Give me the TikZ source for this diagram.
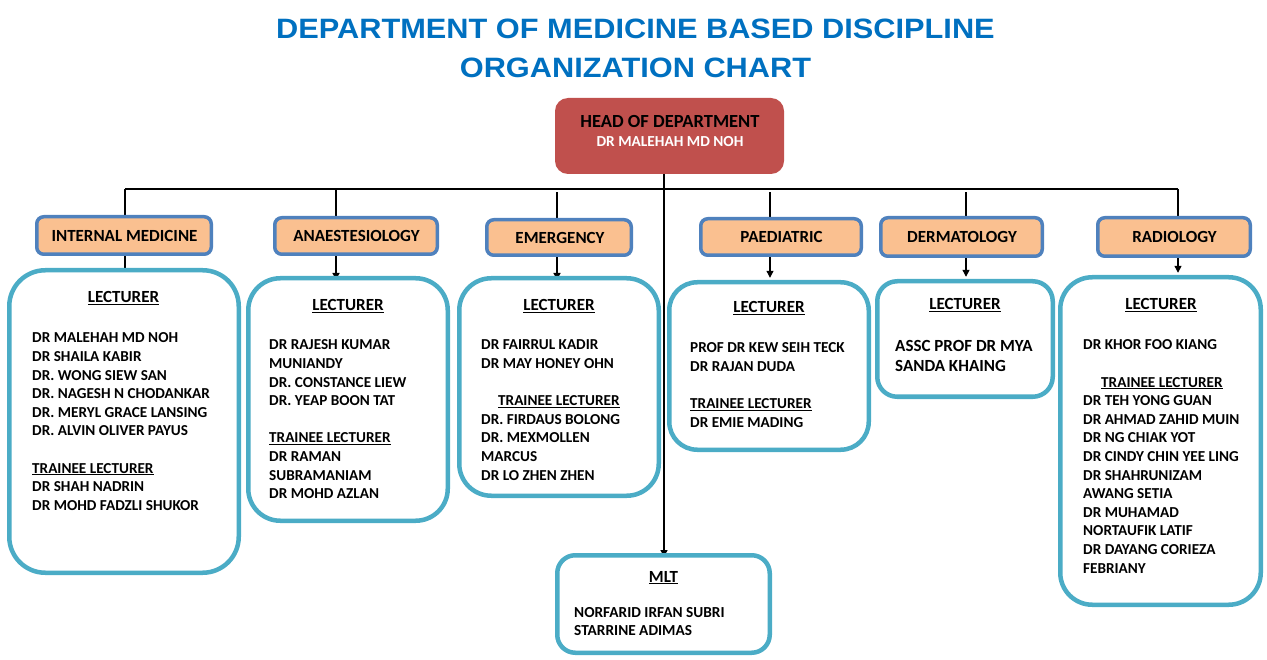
\documentclass[tikz,border=0pt]{standalone}
\usepackage{fontspec}
\setmainfont{Carlito}
\newfontfamily\titlefont{Liberation Sans}
\usetikzlibrary{arrows.meta,backgrounds}
\definecolor{titleblue}{HTML}{0070C0}
\definecolor{headred}{HTML}{C0504D}
\definecolor{deptfill}{HTML}{FAC090}
\definecolor{deptblue}{HTML}{4F81BD}
\definecolor{lectteal}{HTML}{4BACC6}
\newcommand\myul[1]{\setbox0=\hbox{#1}\rlap{\rule[-2pt]{\wd0}{1.1pt}}\box0}
\newcommand\blk[1]{\begin{tabular}[t]{@{}l@{}}#1\end{tabular}}
\begin{document}
\begin{tikzpicture}[x=1pt,y=-1pt,
  dept/.style={draw=deptblue, line width=3.5pt, fill=deptfill, rounded corners=7pt, inner sep=0pt},
  lect/.style={draw=lectteal, line width=4.5pt, fill=white, inner sep=0pt},
  conn/.style={line width=1.2pt, black},
  arr/.style={conn, -{Triangle[length=7pt,width=7pt]}},
  ttl/.style={font=\fontsize{28}{34}\selectfont\titlefont\bfseries, text=titleblue, inner sep=0pt, anchor=base},
  lbl/.style={font=\fontsize{17}{20}\selectfont\bfseries, inner sep=0pt, anchor=base},
  names/.style={font=\fontsize{15.2}{18.6}\selectfont\bfseries, inner sep=0pt, anchor=base west},
]
\useasboundingbox (0,0) rectangle (1267,660);

% title
\node[ttl] (t1) at (635.5,39) {\scalebox{1.098}[1]{DEPARTMENT OF MEDICINE BASED DISCIPLINE}};
\node[ttl] (t2) at (635.5,78) {\scalebox{1.098}[1]{ORGANIZATION CHART}};

% head
\node[fill=headred, rounded corners=13pt, minimum width=229pt, minimum height=76pt, inner sep=0pt] (head) at (669.5,136) {};
\node[lbl, font=\fontsize{18.5}{22}\selectfont\bfseries] (hd1) at (670,128) {HEAD OF DEPARTMENT};
\node[lbl, font=\fontsize{15.3}{18}\selectfont\bfseries, text=white] (hd2) at (670,147) {DR MALEHAH MD NOH};

% departments
\node[dept, minimum width=174.5pt, minimum height=37.5pt] (im) at (124,235.5) {};
\node[dept, minimum width=162.5pt, minimum height=36.5pt] (an) at (356,236) {};
\node[dept, minimum width=144.5pt, minimum height=35.5pt] (em) at (559,237.5) {};
\node[dept, minimum width=160.5pt, minimum height=36.5pt] (pa) at (781,237) {};
\node[dept, minimum width=161.5pt, minimum height=38.5pt] (de) at (961.5,237) {};
\node[dept, minimum width=152.5pt, minimum height=38.5pt] (ra) at (1174,237) {};
\node[lbl] (imt) at (124.5,242) {INTERNAL MEDICINE};
\node[lbl] (ant) at (356.5,242) {ANAESTESIOLOGY};
\node[lbl] (emt) at (560,244) {EMERGENCY};
\node[lbl] (pat) at (781.5,243) {PAEDIATRIC};
\node[lbl] (det) at (962,243) {DERMATOLOGY};
\node[lbl] (rat) at (1174.5,243) {RADIOLOGY};

% lecturer boxes
\node[lect, rounded corners=36pt, minimum width=229.5pt, minimum height=302.5pt] (imL) at (124,421.5) {};
\node[lect, rounded corners=32pt, minimum width=199.5pt, minimum height=242.5pt] (anL) at (348,399.5) {};
\node[lect, rounded corners=32pt, minimum width=199.5pt, minimum height=217.5pt] (emL) at (559,387) {};
\node[lect, rounded corners=28pt, minimum width=199.5pt, minimum height=167.5pt] (paL) at (769,366) {};
\node[lect, rounded corners=20pt, minimum width=175.5pt, minimum height=115.5pt] (deL) at (965,339) {};
\node[lect, rounded corners=32pt, minimum width=200.5pt, minimum height=327.5pt] (raL) at (1160.5,441) {};
\node[lect, rounded corners=18pt, minimum width=212.5pt, minimum height=97.5pt] (mlt) at (663.5,604) {};

% headings
\node[lbl] (imH) at (123.5,303) {\myul{LECTURER}};
\node[lbl] (anH) at (348,311) {\myul{LECTURER}};
\node[lbl] (emH) at (559,311) {\myul{LECTURER}};
\node[lbl] (paH) at (769,313) {\myul{LECTURER}};
\node[lbl] (deH) at (965,310) {\myul{LECTURER}};
\node[lbl] (raH) at (1161,310) {\myul{LECTURER}};
\node[lbl] (mlH) at (663.5,582) {\myul{MLT}};

% name lists
\node[names] (imN) at (32,343) {\blk{DR MALEHAH MD NOH\\DR SHAILA KABIR\\DR. WONG SIEW SAN\\DR. NAGESH N CHODANKAR\\DR. MERYL GRACE LANSING\\DR. ALVIN OLIVER PAYUS\\ \\\myul{TRAINEE LECTURER}\\DR SHAH NADRIN\\DR MOHD FADZLI SHUKOR}};
\node[names] (anN) at (269,350) {\blk{DR RAJESH KUMAR\\MUNIANDY\\DR. CONSTANCE LIEW\\DR. YEAP BOON TAT\\ \\\myul{TRAINEE LECTURER}\\DR RAMAN\\SUBRAMANIAM\\DR MOHD AZLAN}};
\node[names] (emN) at (481,350) {\blk{DR FAIRRUL KADIR\\DR MAY HONEY OHN\\ \\\hspace*{17pt}\myul{TRAINEE LECTURER}\\DR. FIRDAUS BOLONG\\DR. MEXMOLLEN\\MARCUS\\DR LO ZHEN ZHEN}};
\node[names] (paN) at (690,353) {\blk{PROF DR KEW SEIH TECK\\DR RAJAN DUDA\\ \\\myul{TRAINEE LECTURER}\\DR EMIE MADING}};
\node[names, font=\fontsize{17}{20}\selectfont\bfseries] (deN) at (895,352) {\blk{ASSC PROF DR MYA\\SANDA KHAING}};
\node[names] (raN) at (1083,350) {\blk{DR KHOR FOO KIANG\\ \\\hspace*{18pt}\myul{TRAINEE LECTURER}\\DR TEH YONG GUAN\\DR AHMAD ZAHID MUIN\\DR NG CHIAK YOT\\DR CINDY CHIN YEE LING\\DR SHAHRUNIZAM\\AWANG SETIA\\DR MUHAMAD\\NORTAUFIK LATIF\\DR DAYANG CORIEZA\\FEBRIANY}};
\node[names, font=\fontsize{15.3}{18}\selectfont\bfseries] (mlN) at (574,617) {\blk{NORFARID IRFAN SUBRI\\STARRINE ADIMAS}};

% connectors
\coordinate (bL) at (125,189);
\coordinate (bR) at (1178,189);
\coordinate (cA) at (336,189);
\coordinate (cE) at (557,192.5);
\coordinate (cP) at (770,192.5);
\coordinate (cD) at (966,192.5);
\coordinate (hv) at (664,189);
\begin{scope}[on background layer]
\draw[conn] (bL) -- (bR);
\draw[conn] (bL) -- (bL |- im.north);
\draw[conn] (bL |- im.south) -- (bL |- imL.north);
\draw[conn] (cA) -- (cA |- an.north);
\draw[arr, shorten >=-4pt] (cA |- an.south) -- (cA |- anL.north);
\draw[conn] (cE) -- (cE |- em.north);
\draw[arr, shorten >=-4pt] (cE |- em.south) -- (cE |- emL.north);
\draw[conn] (cP) -- (cP |- pa.north);
\draw[arr, shorten >=2.2pt] (cP |- pa.south) -- (cP |- paL.north);
\draw[conn] (cD) -- (cD |- de.north);
\draw[arr, shorten >=2.2pt] (cD |- de.south) -- (cD |- deL.north);
\draw[conn] (bR) -- (bR |- ra.north);
\draw[arr, shorten >=2.2pt] (bR |- ra.south) -- (bR |- raL.north);
\draw[arr, shorten >=-4pt] (hv |- head.south) -- (hv |- mlt.north);
\end{scope}
\end{tikzpicture}
\end{document}
